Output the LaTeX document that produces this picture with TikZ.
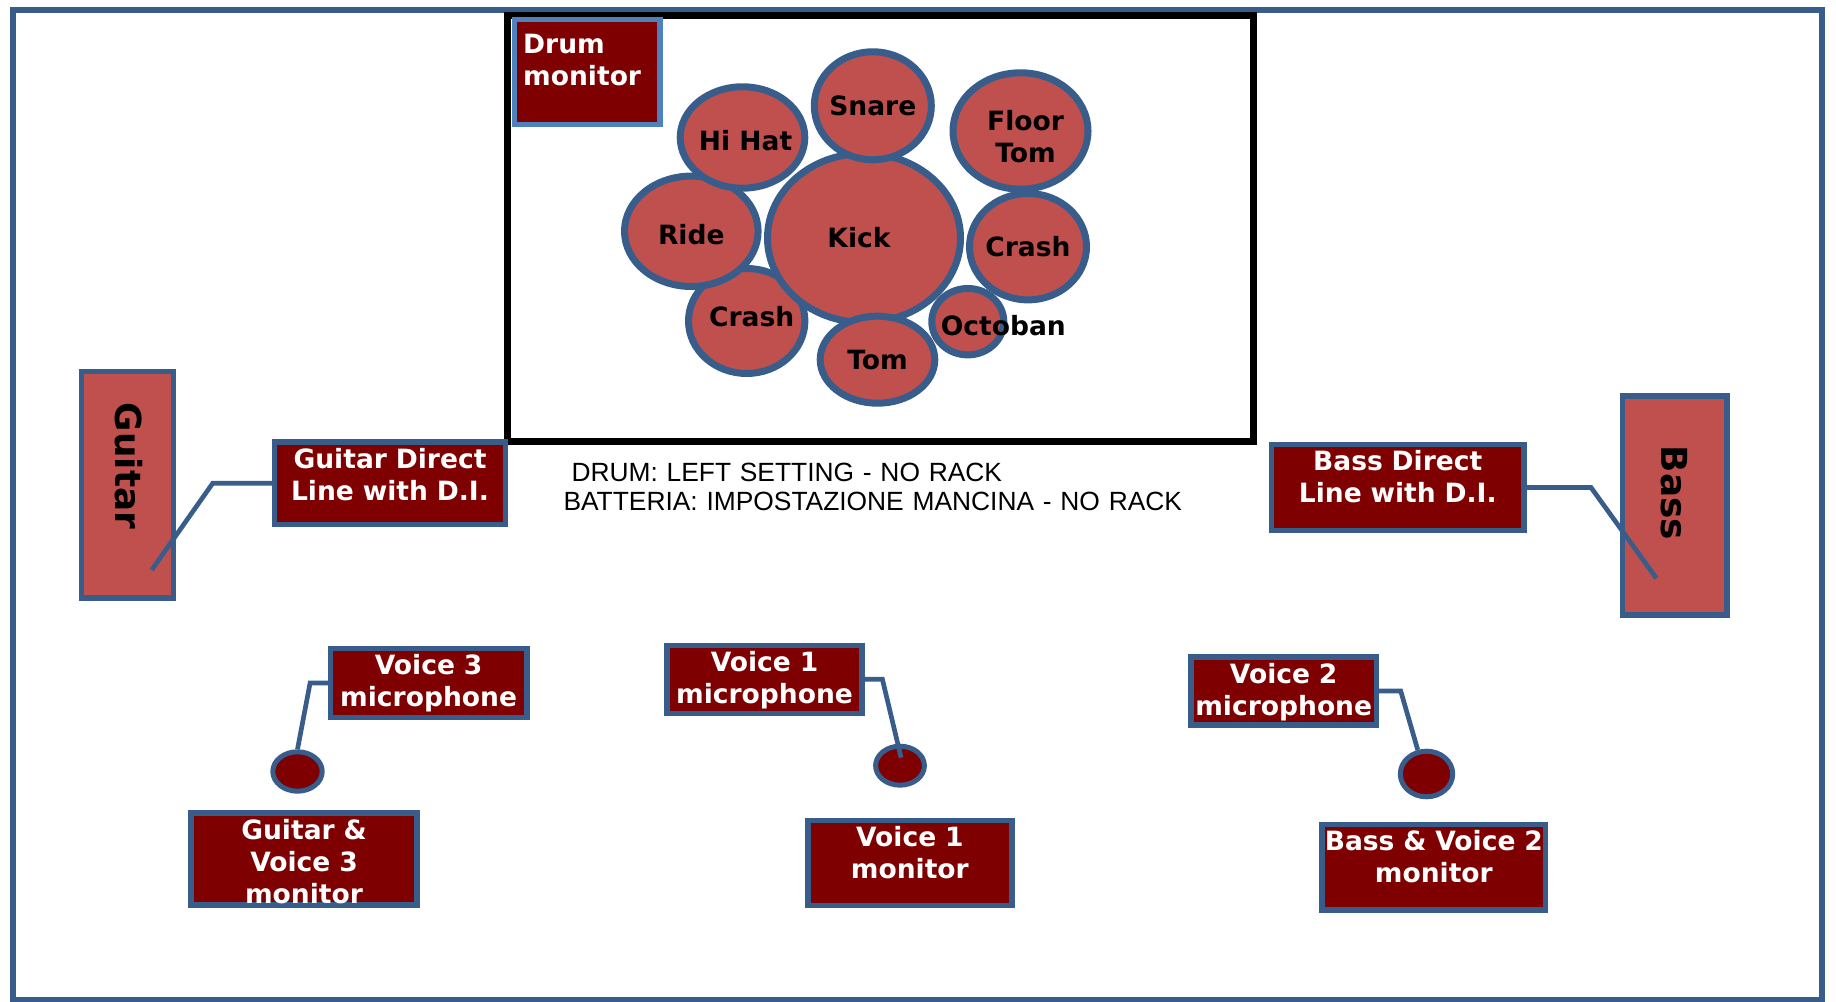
\documentclass[tikz,border=0pt]{standalone}
\usepackage{fontspec}
\setmainfont{DejaVu Sans}
\newfontfamily\notefont{Liberation Sans}
\usetikzlibrary{calc,positioning,shapes}
\definecolor{kitred}{HTML}{C0504D}
\definecolor{edgeblue}{HTML}{385D8A}
\definecolor{boxred}{HTML}{7F0000}
\definecolor{monblue}{HTML}{4F81BD}

\begin{document}
\begin{tikzpicture}[inner sep=0pt,
  drum/.style={ellipse,draw=edgeblue,fill=kitred,line width=0.07cm,inner xsep=-1mm,font=\fontsize{7.55}{9.1}\selectfont\bfseries},
  redbox/.style={rectangle,draw=edgeblue,fill=boxred,line width=0.055cm,outer sep=0pt,text=white,font=\fontsize{7.55}{9.1}\selectfont\bfseries,align=center,anchor=north west,inner xsep=0.02cm,inner ysep=0pt,text height=0.262cm},
  instr/.style={rectangle,draw=edgeblue,fill=kitred,line width=0.055cm},
  instrname/.style={rotate=-90,font=\fontsize{10.2}{12}\selectfont\bfseries},
  mic/.style={ellipse,draw=edgeblue,fill=boxred,line width=0.05cm},
  cable/.style={draw=edgeblue,line width=0.047cm}]
\useasboundingbox (0,0) rectangle (18.36,10.02);
\draw[edgeblue,line width=0.06cm] (0.135,0.015) rectangle (18.22,9.923);
\draw[line width=0.07cm] (5.079,5.605) rectangle (12.539,9.86);

\node[redbox,draw=monblue,align=left,inner xsep=0.085cm,text width=1.283cm,text height=0.339cm,text depth=0.713cm] (drummon) at (5.147,9.826) {Drum\\monitor};

\node[drum,minimum width=1.164cm,minimum height=1.05cm,text depth=0.1cm] (crashleft) at (7.467,6.81) {\hspace*{0.1cm}Crash};
\node[drum,minimum width=1.336cm,minimum height=1.104cm,text height=0.27cm] (ride) at (6.913,7.707) {Ride};
\node[drum,minimum width=1.246cm,minimum height=1.014cm,text height=0.27cm] (hihat) at (7.425,8.645) {\hspace*{0.06cm}Hi Hat};
\node[drum,minimum width=1.93cm,minimum height=1.69cm] (kick) at (8.64,7.64) {Kick\hspace*{0.1cm}};
\node[drum,minimum width=1.17cm,minimum height=1.08cm] (snare) at (8.728,8.962) {Snare};
\node[drum,minimum width=1.35cm,minimum height=1.164cm,align=center,text width=0.9cm,text height=0.32cm,text depth=0.32cm] (floortom) at (10.205,8.71) {\hspace*{0.1cm}Floor\\\hspace*{0.1cm}Tom};
\node[drum,minimum width=1.17cm,minimum height=1.064cm] (crashright) at (10.28,7.553) {Crash};
\node[drum,minimum width=0.72cm,minimum height=0.664cm] (octoban) at (9.678,6.803) {};
\node[drum,minimum width=1.146cm,minimum height=0.87cm] (tom) at (8.775,6.423) {Tom};
\node[font=\fontsize{7.55}{9.1}\selectfont\bfseries] (octobanname) at (10.033,6.76) {Octoban};

\node[text width=6.6cm,align=left,anchor=base west,font=\notefont\fontsize{7.5}{8.25}\selectfont] (drumnote) at (5.628,5.20) {\hspace*{0.08cm}DRUM: LEFT SETTING - NO RACK\\BATTERIA: IMPOSTAZIONE MANCINA - NO RACK};

\node[instr,minimum width=0.92cm,minimum height=2.267cm] (guitar) at (1.275,5.172) {};
\node[instrname] (guitarname) at (1.29,5.36) {Guitar};
\node[instr,minimum width=1.044cm,minimum height=2.194cm] (bass) at (16.749,4.965) {};
\node[instrname] (bassname) at (16.743,5.09) {Bass};

\node[redbox,text width=2.272cm,text depth=0.564cm] (guitardi) at (2.744,5.60) {Guitar Direct\\Line with D.I.};
\node[redbox,text width=2.481cm,text depth=0.600cm] (bassdi) at (12.717,5.576) {Bass Direct\\Line with D.I.};

\node[redbox,text width=1.924cm,text depth=0.424cm] (voicethreemic) at (3.304,3.533) {Voice 3\\microphone};
\node[redbox,text width=1.912cm,text depth=0.417cm] (voiceonemic) at (6.669,3.566) {Voice 1\\microphone};
\node[redbox,text width=1.814cm,text depth=0.418cm] (voicetwomic) at (11.91,3.45) {Voice 2\\microphone};

\node[mic,minimum width=0.494cm,minimum height=0.394cm] (v3mic) at (2.975,2.305) {};
\node[mic,minimum width=0.488cm,minimum height=0.39cm] (v1mic) at (9.00,2.363) {};
\node[mic,minimum width=0.524cm,minimum height=0.456cm] (v2mic) at (14.265,2.28) {};

\node[redbox,text width=2.216cm,text depth=0.658cm] (guitarmon) at (1.912,1.89) {Guitar \&\\Voice 3\\monitor};
\node[redbox,text width=1.999cm,text depth=0.590cm] (voiceonemon) at (8.079,1.816) {Voice 1\\monitor};
\node[redbox,inner xsep=0pt,text width=2.232cm,text depth=0.594cm] (bassmon) at (13.222,1.776) {Bass~\&~Voice~2\\monitor};

\coordinate (guitarjack) at (1.517,4.32);
\coordinate (bassjack) at (16.564,4.237);
\coordinate (v1plug) at (9.011,2.443);
\draw[cable] (guitardi.west) -- ++(-0.617,0) -- (guitarjack);
\draw[cable] (bassdi.east) -- ++(0.672,0) -- (bassjack);
\draw[cable] (voicethreemic.west) -- ++(-0.203,0) -- (v3mic.north);
\draw[cable] (voiceonemic.east) -- ++(0.203,0) -- (v1plug);
\draw[cable] (voicetwomic.east) -- ++(0.243,0) -- (v2mic.110);
\end{tikzpicture}
\end{document}
